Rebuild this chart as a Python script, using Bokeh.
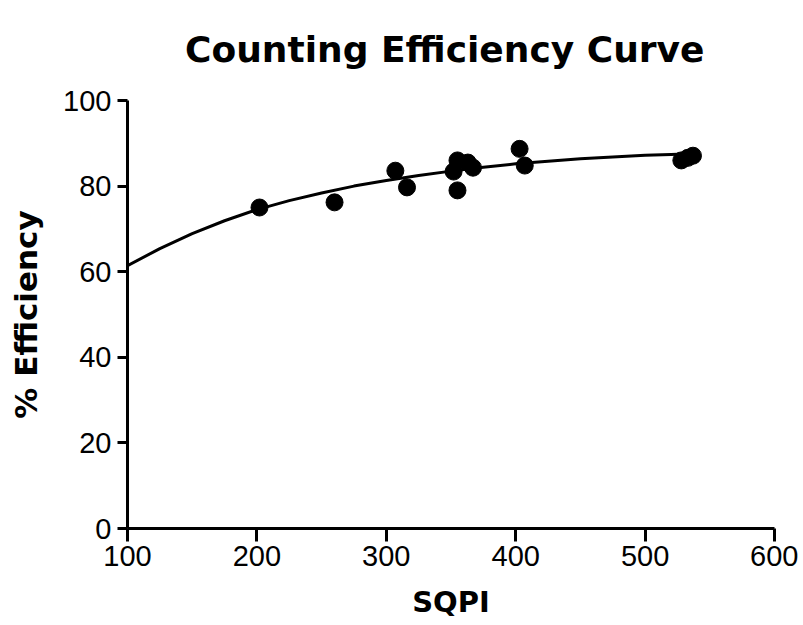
from bokeh.plotting import figure
from bokeh.embed import file_html
from bokeh.resources import INLINE
from bokeh.models import FixedTicker, Range1d

# Data points (SQPI vs % efficiency)
sqpi = [202, 260, 307, 316, 352, 355, 355, 363, 367, 403, 407, 528, 533, 537]
efficiency = [75.0, 76.2, 83.6, 79.7, 83.4, 86.0, 79.0, 85.5, 84.3, 88.7, 84.8, 86.0, 86.6, 87.1]

# Fitted curve
curve_x = [100, 125, 150, 175, 200, 225, 250, 275, 300, 325, 350, 375, 400, 425, 450, 475, 500, 520, 540]
curve_y = [61.4, 65.4, 68.9, 71.9, 74.5, 76.6, 78.4, 80.0, 81.3, 82.5, 83.5, 84.4, 85.2, 85.8, 86.4, 86.8, 87.2, 87.4, 87.6]

x_ticks = [100, 200, 300, 400, 500, 600]
y_ticks = [0, 20, 40, 60, 80, 100]

title_text = "Counting Efficiency  Curve"

FONT = "Liberation Sans"
BOLD_FONT = "DejaVu Sans"

p = figure(frame_width=647, frame_height=428,
           min_border_left=127, min_border_top=0, min_border_right=24, min_border_bottom=10,
           x_range=Range1d(100, 600), y_range=Range1d(0, 100),
           output_backend="svg", toolbar_location=None,
           title=title_text)

p.title.text_font = BOLD_FONT
p.title.text_font_size = "36px"
p.title.text_font_style = "bold"
p.title.align = "center"
p.title.vertical_align = "top"
p.title.standoff = 57
p.title.text_color = "black"

p.outline_line_color = None
p.grid.visible = False
p.background_fill_color = "white"
p.border_fill_color = "white"

for ax in (p.xaxis, p.yaxis):
    ax.axis_line_width = 3
    ax.axis_line_color = "black"
    ax.major_tick_line_width = 3
    ax.major_tick_line_color = "black"
    ax.major_tick_in = 0
    ax.minor_tick_line_color = None
    ax.major_label_text_font = FONT
    ax.major_label_text_font_size = "29px"
    ax.major_label_text_color = "black"
    ax.axis_label_text_font = BOLD_FONT
    ax.axis_label_text_font_size = "29px"
    ax.axis_label_text_font_style = "bold"
    ax.axis_label_text_color = "black"

p.yaxis.axis_label_text_font_size = "31px"

p.xaxis.ticker = FixedTicker(ticks=x_ticks)
p.yaxis.ticker = FixedTicker(ticks=y_ticks)
p.xaxis.major_tick_out = 13
p.yaxis.major_tick_out = 10
p.xaxis.major_label_standoff = 4
p.yaxis.major_label_standoff = 6
p.xaxis.axis_label = "SQPI"
p.yaxis.axis_label = "% Efficiency"
p.xaxis.axis_label_standoff = 16
p.yaxis.axis_label_standoff = 16

p.line(curve_x, curve_y, line_color="black", line_width=3)
p.scatter(sqpi, efficiency, size=17, color="black", marker="circle")

open("out.html", "w").write(file_html(p, INLINE))
